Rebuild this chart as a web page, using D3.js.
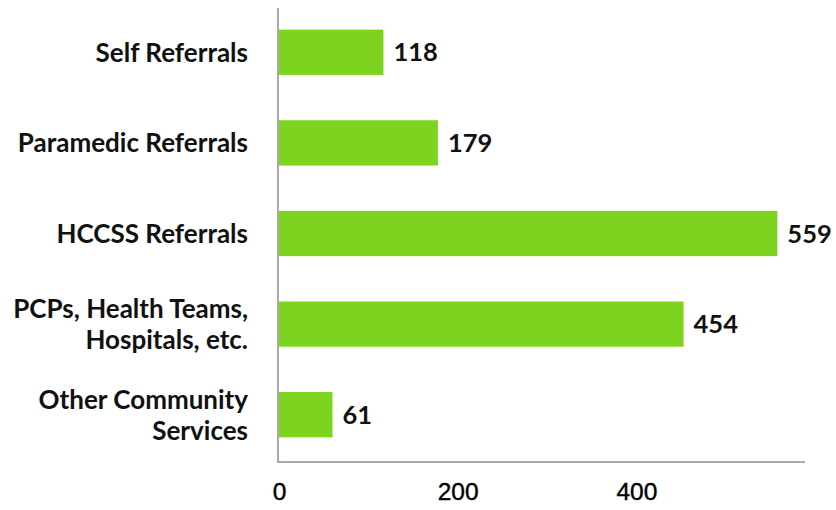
<!DOCTYPE html>
<html>
<head>
<meta charset="utf-8">
<script src="https://cdn.jsdelivr.net/npm/d3@7"></script>
<style>
  body { margin: 0; background: #fff; }
</style>
</head>
<body>
<svg id="chart" width="836" height="510"></svg>
<script>
// referral sources and counts
const categories = [
  ['Self Referrals'],
  ['Paramedic Referrals'],
  ['HCCSS Referrals'],
  ['PCPs, Health Teams,', 'Hospitals, etc.'],
  ['Other Community', 'Services']
];
const values = [118, 179, 559, 454, 61];
const tickValues = [0, 200, 400];

const svg = d3.select('#chart');
const plotLeft = 278;
const plotTop = 7;
const plotBottom = 462;

const data = categories.map((lines, i) => ({ key: i, lines, value: values[i] }));

// scales
const x = d3.scaleLinear().domain([0, 600]).range([plotLeft, plotLeft + 536]);
const y = d3.scaleBand()
  .domain(data.map(d => d.key))
  .range([plotTop, plotBottom - 2])
  .paddingInner(0.5)
  .paddingOuter(0.25);

// bars
svg.selectAll('.bar')
  .data(data)
  .enter()
  .append('rect')
  .attr('class', 'bar')
  .attr('x', x(0))
  .attr('y', d => y(d.key))
  .attr('width', d => x(d.value) - x(0))
  .attr('height', y.bandwidth())
  .attr('fill', '#7ed321');

// value labels
svg.selectAll('.val')
  .data(data)
  .enter()
  .append('text')
  .attr('class', 'val')
  .attr('x', d => x(d.value) + 10)
  .attr('y', d => y(d.key) + y.bandwidth() / 2)
  .attr('dy', '0.36em')
  .style('font', 'bold 25.5px Lato')
  .attr('fill', '#111');

svg.selectAll('.val').text(d => d.value);

// category labels
const cat = svg.selectAll('.cat')
  .data(data)
  .enter()
  .append('text')
  .attr('class', 'cat')
  .attr('text-anchor', 'end')
  .style('font', 'bold 26px Lato')
  .attr('fill', '#111');

cat.selectAll('tspan')
  .data(d => d.lines.map((t, i) => ({ t, i, n: d.lines.length, c: y(d.key) + y.bandwidth() / 2 })))
  .enter()
  .append('tspan')
  .attr('x', 248)
  .attr('y', d => d.c + (d.i - (d.n - 1) / 2) * 31)
  .attr('dy', '0.36em')
  .text(d => d.t);

// axes lines
svg.append('line')
  .attr('x1', plotLeft).attr('x2', plotLeft)
  .attr('y1', 8).attr('y2', plotBottom)
  .attr('stroke', '#a7aaae')
  .attr('stroke-width', 2);

svg.append('line')
  .attr('x1', plotLeft - 1).attr('x2', 805)
  .attr('y1', plotBottom).attr('y2', plotBottom)
  .attr('stroke', '#a7aaae')
  .attr('stroke-width', 2);

// tick labels
svg.append('g')
  .attr('transform', `translate(0,${plotBottom})`)
  .call(d3.axisBottom(x).tickValues(tickValues).tickSize(0).tickPadding(21))
  .call(g => g.select('.domain').remove())
  .selectAll('text')
  .attr('dx', 1)
  .style('font', '24.5px "Liberation Sans", Arial, sans-serif')
  .style('stroke', '#000')
  .style('stroke-width', 0.4)
  .attr('fill', '#000');
</script>
</body>
</html>
